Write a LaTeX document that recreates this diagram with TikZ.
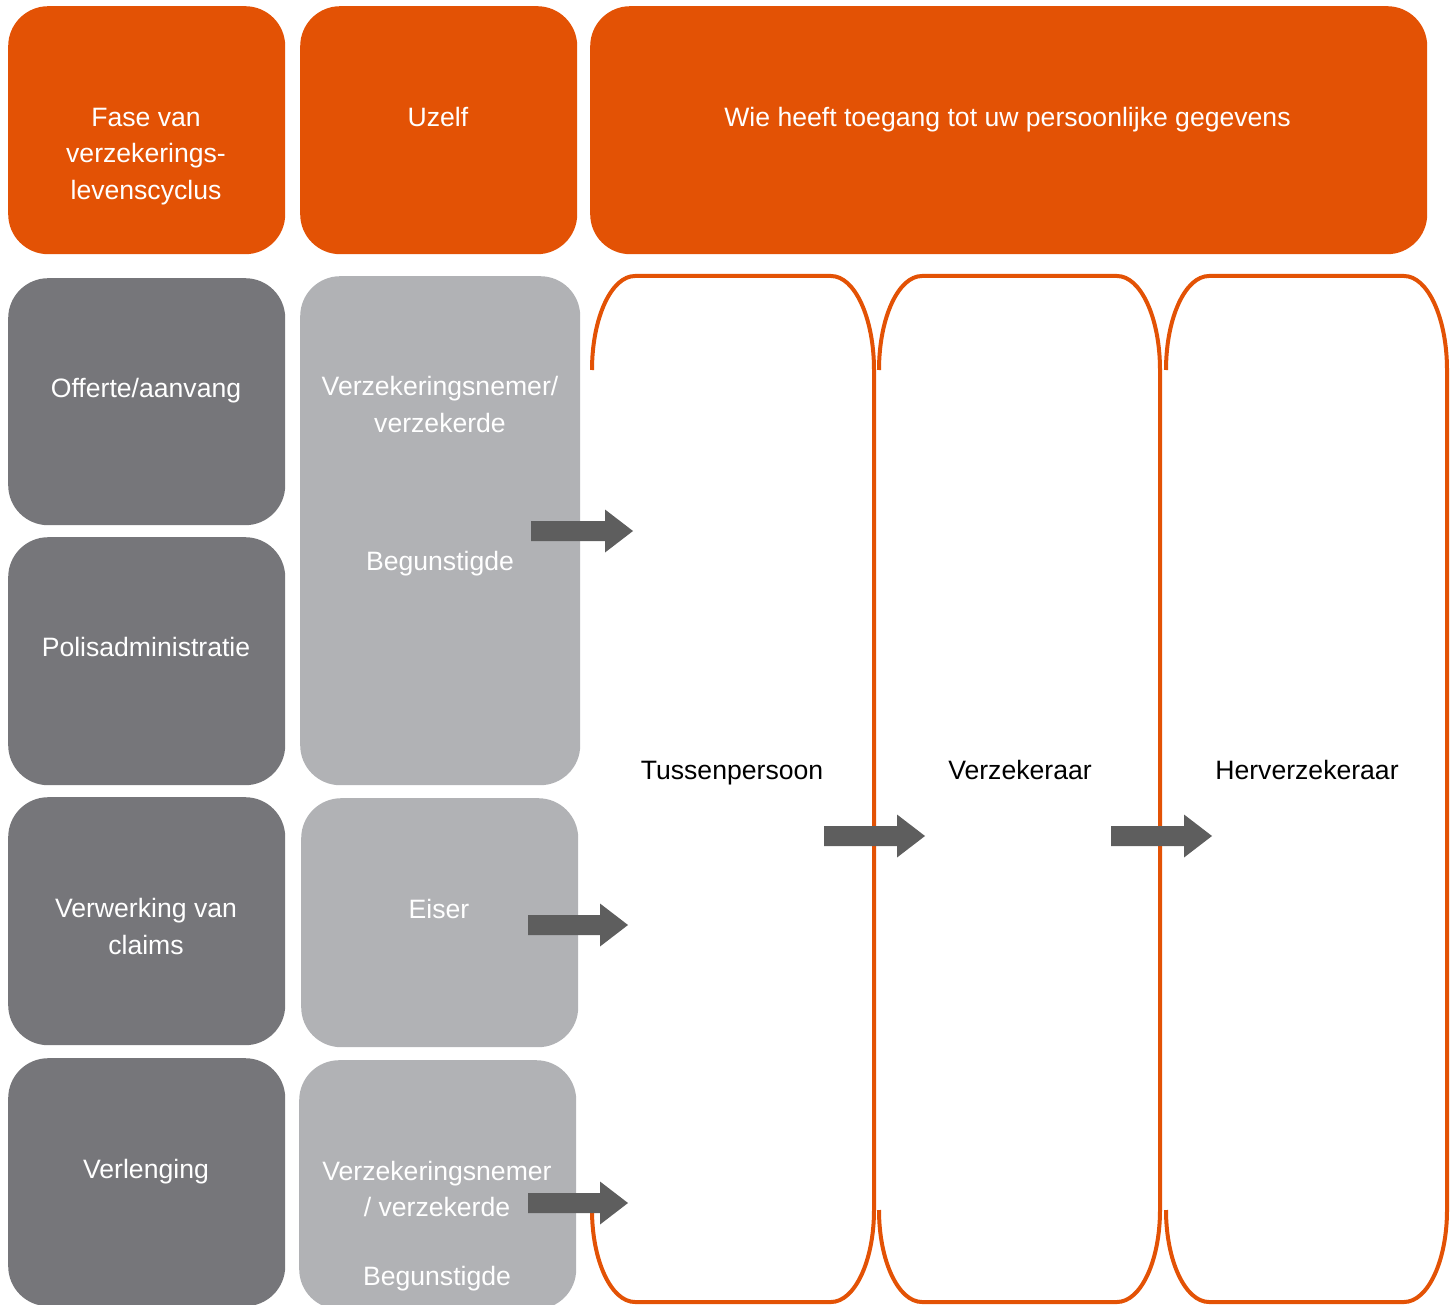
\documentclass[tikz,border=0pt]{standalone}
\usepackage{fontspec}
\setmainfont{Liberation Sans}
\definecolor{pwcorange}{HTML}{E35205}
\definecolor{darkbox}{HTML}{76767A}
\definecolor{lightbox}{HTML}{B1B2B5}
\definecolor{arrowgray}{HTML}{5E5E5E}
\begin{document}
\begin{tikzpicture}[x=1pt,y=-1pt,
  box/.style={rectangle,rounded corners=40pt,inner sep=0pt,anchor=north west},
  hdr/.style={box,fill=pwcorange},
  dbox/.style={box,fill=darkbox},
  lbox/.style={box,fill=lightbox},
  txt/.style={anchor=base,inner sep=0pt,font=\fontsize{26.6}{36.5}\selectfont},
  wtxt/.style={txt,text=white},
  btxt/.style={txt,text=black},
  col/.style={draw=pwcorange,line width=4pt},
  blk/.style={fill=arrowgray}]
\useasboundingbox (0,0) rectangle (1455,1305);
\clip (0,0) rectangle (1455,1305);
% header boxes
\node[hdr,minimum width=277pt,minimum height=248pt] (h1) at (8,6) {};
\node[hdr,minimum width=277pt,minimum height=248pt] (h2) at (300,6) {};
\node[hdr,minimum width=837pt,minimum height=248pt] (h3) at (590,6) {};
% column 1 boxes
\node[dbox,minimum width=277pt,minimum height=247pt] (d1) at (8,278) {};
\node[dbox,minimum width=277pt,minimum height=248pt] (d2) at (8,537) {};
\node[dbox,minimum width=277pt,minimum height=248pt] (d3) at (8,797) {};
\node[dbox,minimum width=277pt,minimum height=248pt] (d4) at (8,1058) {};
% column 2 boxes
\node[lbox,minimum width=280pt,minimum height=509pt] (g1) at (300,276) {};
\node[lbox,minimum width=277pt,minimum height=249pt] (g2) at (301,798) {};
\node[lbox,minimum width=277pt,minimum height=249pt] (g3) at (299,1060) {};
% orange outlined columns (left straight edge absent)
\foreach \L/\R/\n in {592/874/1,879/1160/2,1166/1447/3}{
  \draw[col] (\L,370) arc[start angle=180,end angle=270,x radius=43,y radius=94]
    -- (\R-43,276) arc[start angle=270,end angle=360,x radius=43,y radius=94]
    -- (\R,1210) arc[start angle=0,end angle=90,x radius=43,y radius=92]
    -- (\L+43,1302) arc[start angle=90,end angle=180,x radius=43,y radius=92];
}
% header texts
\node[wtxt] (t1a) at (146,126.5) {Fase van};
\node[wtxt] (t1b) at (146,162.5) {verzekerings-};
\node[wtxt] (t1c) at (146,199.5) {levenscyclus};
\node[wtxt] (t2) at (438,126.5) {Uzelf};
\node[wtxt] (t3) at (1007.5,126.5) {Wie heeft toegang tot uw persoonlijke gegevens};
% column 1 texts
\node[wtxt] (c1) at (146,397.5) {Offerte/aanvang};
\node[wtxt] (c2) at (146,656.5) {Polisadministratie};
\node[wtxt] (c3a) at (146,917.5) {Verwerking van};
\node[wtxt] (c3b) at (146,954.5) {claims};
\node[wtxt] (c4) at (146,1178.5) {Verlenging};
% column 2 texts
\node[wtxt] (u1a) at (440,395.5) {Verzekeringsnemer/};
\node[wtxt] (u1b) at (440,432.5) {verzekerde};
\node[wtxt] (u1c) at (440,570.5) {Begunstigde};
\node[wtxt] (u2) at (439,918.5) {Eiser};
\node[wtxt] (u3a) at (437,1180.5) {Verzekeringsnemer};
\node[wtxt] (u3b) at (437,1216.5) {/ verzekerde};
\node[wtxt] (u3c) at (437,1285.5) {Begunstigde};
% column labels
\node[btxt] (k1) at (732,779.5) {Tussenpersoon};
\node[btxt] (k2) at (1020,779.5) {Verzekeraar};
\node[btxt] (k3) at (1307,779.5) {Herverzekeraar};
% block arrows
\foreach \a/\b/\y in {531/633/531,528/628/925,528/628/1203,824/925/836,1111/1212/836}{
  \fill[blk] (\a,\y-10) -- (\b-28,\y-10) -- (\b-28,\y-21.5) -- (\b,\y)
    -- (\b-28,\y+21.5) -- (\b-28,\y+10) -- (\a,\y+10) -- cycle;
}
\end{tikzpicture}
\end{document}
